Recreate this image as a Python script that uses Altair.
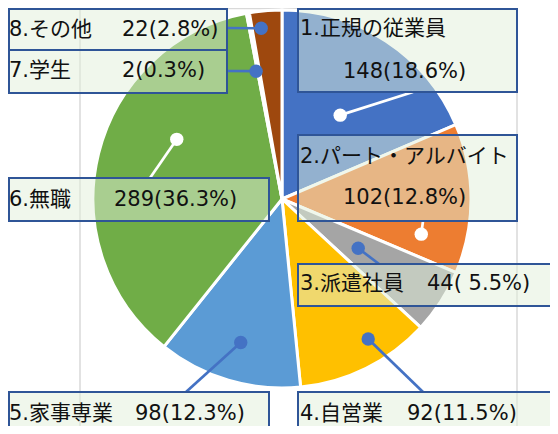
import math
import altair as alt
import pandas as pd

# ---- data ----
names = ["1.正規の従業員", "2.パート・アルバイト", "3.派遣社員", "4.自営業",
         "5.家事専業", "6.無職", "7.学生", "8.その他"]
values = [148, 102, 44, 92, 98, 289, 2, 22]
value_labels = ["148(18.6%)", "102(12.8%)", "44( 5.5%)", "92(11.5%)",
                "98(12.3%)", "289(36.3%)", "2(0.3%)", "22(2.8%)"]

# ---- styles ----
colors = ["#4472C4", "#ED7D31", "#A5A5A5", "#FFC000", "#5B9BD5", "#70AD47", "#264478", "#9E480E"]
leader_colors = ["#FFFFFF", "#FFFFFF", "#4472C4", "#4472C4", "#4472C4", "#FFFFFF", "#4472C4", "#4472C4"]
FONT = "DejaVu Sans, Noto Sans CJK JP"
W, H = 542, 418
CX, CY, R = 274, 191, 189

# ---- label layout (position of each dot inside its slice, box, text anchors) ----
dot_frac = [0.52, 0.81, 0.50, 0.375, 0.49, 0.62, -0.7, 0.30]
dot_rfrac = [0.54, 0.76, 0.48, 0.87, 0.79, 0.64, 0.69, 0.91]
line_end_x = [405, 415, 371, 415, 178, 142, 219, 219]
line_end_y = [84, 213, 256, 384, 384, 170, 63, 20]
box_x1 = [290, 290, 290, 290, 1, 1, 1, 1]
box_x2 = [509, 509, 560, 560, 261, 261, 219, 219]
box_y1 = [1, 127, 256, 384, 384, 170, 42, 1]
box_y2 = [84, 213, 298, 440, 440, 213, 85, 42]
name_x = [292, 292, 292, 292, 1, 1, 1, 1]
name_y = [21, 149, 276, 406, 406, 192, 63, 22]
val_x = [335, 335, 419, 399, 127, 106, 114, 114]
val_y = [64, 190, 276, 406, 406, 192, 63, 22]

total = sum(values)
starts, ends = [], []
acc = 0
for v in values:
    starts.append(acc / total * 2 * math.pi)
    acc += v
    ends.append(acc / total * 2 * math.pi)

dot_x, dot_y = [], []
for s, e, f, rf in zip(starts, ends, dot_frac, dot_rfrac):
    a = s + f * (e - s)
    dot_x.append(CX + rf * R * math.sin(a))
    dot_y.append(CY - rf * R * math.cos(a))

df = pd.DataFrame({
    "idx": list(range(len(names))), "name": names, "value": values, "vlabel": value_labels,
    "lc": leader_colors, "dx": dot_x, "dy": dot_y, "lx": line_end_x, "ly": line_end_y,
    "bx1": box_x1, "bx2": box_x2, "by1": box_y1, "by2": box_y2,
    "nx": name_x, "ny": name_y, "vx": val_x, "vy": val_y,
})

grid_df = pd.DataFrame({"x": [72, 509, 0], "x2": [72, 509, 509], "y": [0, 0, 0.5], "y2": [H, H, 0.5]})

def px(f):
    return alt.X(f, type="quantitative", scale=None, axis=None)

def py(f):
    return alt.Y(f, type="quantitative", scale=None, axis=None)

grid = alt.Chart(grid_df).mark_rule(color="#D9D9D9", strokeWidth=1.5).encode(
    x=px("x"), x2=alt.X2("x2"), y=py("y"), y2=alt.Y2("y2"))

pie = alt.Chart(df).mark_arc(radius=R, stroke="white", strokeWidth=3).encode(
    theta=alt.Theta("value:Q", stack=True),
    order=alt.Order("idx:Q"),
    color=alt.Color("name:N", scale=alt.Scale(domain=names, range=colors), legend=None),
    x=alt.value(CX), y=alt.value(CY),
)

lines = alt.Chart(df).mark_rule(strokeWidth=2.7).encode(
    x=px("dx"), y=py("dy"), x2=alt.X2("lx"), y2=alt.Y2("ly"),
    color=alt.Color("lc:N", scale=None))

dots = alt.Chart(df).mark_circle(size=180, opacity=1).encode(
    x=px("dx"), y=py("dy"), color=alt.Color("lc:N", scale=None))

boxes = alt.Chart(df).mark_rect(fill="#E2F0D9", fillOpacity=0.5, stroke="#2F5597", strokeWidth=2).encode(
    x=px("bx1"), x2=alt.X2("bx2"), y=py("by1"), y2=alt.Y2("by2"))

name_text = alt.Chart(df).mark_text(align="left", baseline="middle", font=FONT, fontSize=21, color="#111111").encode(
    x=px("nx"), y=py("ny"), text="name:N")

val_text = alt.Chart(df).mark_text(align="left", baseline="middle", font=FONT, fontSize=21, color="#111111").encode(
    x=px("vx"), y=py("vy"), text="vlabel:N")

chart = alt.layer(grid, pie, lines, boxes, dots, name_text, val_text).properties(
    width=W, height=H, autosize=alt.AutoSizeParams(type="none"), padding=0
).configure_view(stroke=None)

chart.save("out.html", embed_options={"renderer": "svg", "actions": False})
